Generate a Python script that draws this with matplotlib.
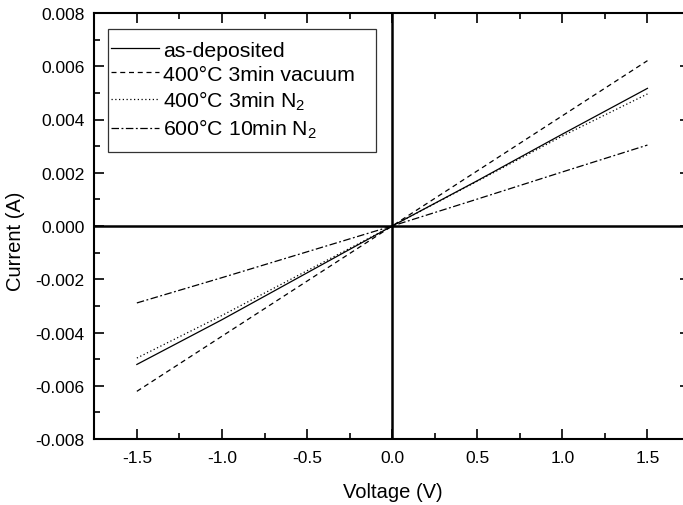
import matplotlib
matplotlib.use('Agg')
import matplotlib.pyplot as plt
from matplotlib.patches import Rectangle
from matplotlib.ticker import MultipleLocator, FormatStrFormatter

plt.rcParams['font.family'] = ['Liberation Sans', 'DejaVu Sans']
plt.rcParams['mathtext.fontset'] = 'custom'
plt.rcParams['mathtext.rm'] = 'Liberation Sans'
plt.rcParams['mathtext.it'] = 'Liberation Sans:italic'
plt.rcParams['axes.unicode_minus'] = False

voltage = [-1.5, -1.0, -0.5, 0.0, 0.5, 1.0, 1.5]
as_deposited = [-0.00520, -0.00352, -0.00176, 0.0, 0.00170, 0.00345, 0.00517]
vac_400 = [-0.00621, -0.00414, -0.00207, 0.0, 0.00207, 0.00414, 0.00621]
n2_400 = [-0.00496, -0.00336, -0.00168, 0.0, 0.00168, 0.00338, 0.00496]
n2_600 = [-0.00289, -0.00194, -0.00097, 0.0, 0.00101, 0.00203, 0.00304]

labels = ['as-deposited', '400°C 3min vacuum', r'400°C 3min N$_2$', r'600°C 10min N$_2$']

W, H = 683, 506
fig = plt.figure(figsize=(6.83, 5.06), dpi=100)
# right spine sits just past the picture edge, as in the reference
ax = fig.add_axes([94.3/W, 66/H, 595.7/W, 426/H])

ax.plot(voltage, as_deposited, '-', color='black', lw=0.9, label=labels[0])
ax.plot(voltage, vac_400, color='black', lw=0.9, dashes=(4, 3), label=labels[1])
ax.plot(voltage, n2_400, color='black', lw=0.9, dashes=(1, 2), label=labels[2])
ax.plot(voltage, n2_600, color='black', lw=0.9, dashes=(6, 2, 1.5, 2), label=labels[3])

ax.axhline(0, color='black', lw=1.8, zorder=1)
ax.axvline(0, color='black', lw=1.8, zorder=1)

ax.set_xlim(-1.75, 1.75)
ax.set_ylim(-0.008, 0.008)
ax.xaxis.set_major_locator(MultipleLocator(0.5))
ax.xaxis.set_minor_locator(MultipleLocator(0.25))
ax.yaxis.set_major_locator(MultipleLocator(0.002))
ax.yaxis.set_minor_locator(MultipleLocator(0.001))
ax.xaxis.set_major_formatter(FormatStrFormatter('%.1f'))
ax.yaxis.set_major_formatter(FormatStrFormatter('%.3f'))

for s in ax.spines.values():
    s.set_linewidth(1.5)
ax.tick_params(which='both', direction='in', top=True, right=True, width=1.2)
ax.tick_params(which='major', length=7.2, labelsize=12.5)
ax.tick_params(which='minor', length=4.3)
ax.tick_params(axis='x', pad=8)
ax.tick_params(axis='y', pad=7)

fig.text(16/W, 1 - 241/H, 'Current (A)', rotation=90, ha='center', va='center', fontsize=14.5)
fig.text(392.7/W, 1 - 498/H, 'Voltage (V)', ha='center', va='baseline', fontsize=14.5)

# legend without its own frame; box drawn separately (wide right margin like Origin)
leg = ax.legend(loc='upper left', bbox_to_anchor=(110.7/W, 1 - 41.5/H),
                bbox_transform=fig.transFigure, borderaxespad=0, borderpad=0,
                fontsize=15.3, frameon=False,
                handlelength=2.25, handletextpad=0.2, labelspacing=0.24)
fig.add_artist(Rectangle((108.3/W, 1 - 153.3/H), (376 - 108.3)/W, (153.3 - 30)/H,
                         transform=fig.transFigure, fill=False,
                         edgecolor='#333333', lw=0.9))

fig.savefig('out.png', dpi=100)
